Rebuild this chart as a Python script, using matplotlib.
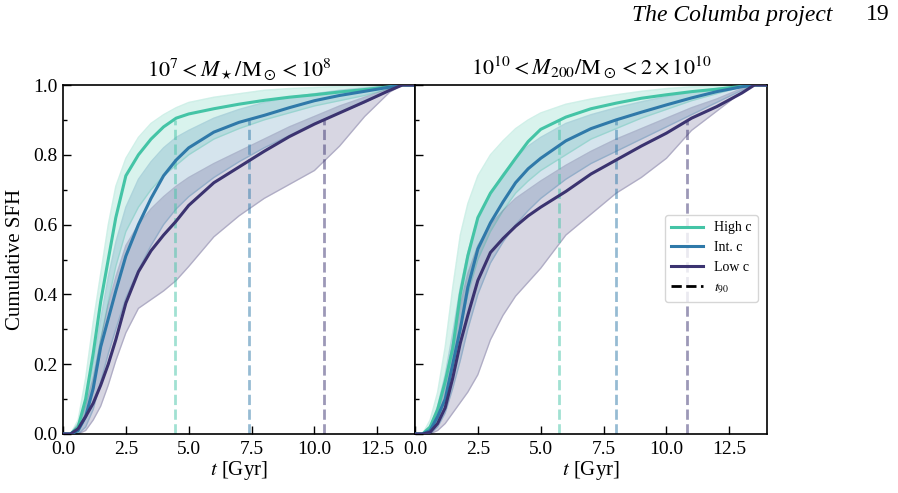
import numpy as np
import matplotlib
matplotlib.use("Agg")
import matplotlib.pyplot as plt
from matplotlib.lines import Line2D

plt.rcParams['font.family'] = ['Liberation Serif', 'DejaVu Serif']
plt.rcParams['mathtext.fontset'] = 'stix'

# time grid (Gyr)
t = [0, 0.3, 0.6, 0.9, 1.2, 1.5, 1.8, 2.1, 2.5, 3.0, 3.5, 4.0, 4.5, 5.0,
     6.0, 7.0, 8.0, 9.0, 10.0, 11.0, 12.0, 13.0, 13.5, 14.0]

series = ["High c", "Int. c", "Low c"]
colors = ["#44c4a6", "#2f79a9", "#3b3370"]

# ---- Left panel: 10^7 < M* < 10^8 ----
L_high_med = [0, 0, 0.02, 0.10, 0.23, 0.38, 0.50, 0.62, 0.74, 0.80, 0.845, 0.88, 0.905, 0.917,
              0.932, 0.945, 0.956, 0.965, 0.972, 0.980, 0.987, 0.995, 1, 1]
L_high_up = [0, 0, 0.04, 0.16, 0.32, 0.46, 0.60, 0.71, 0.79, 0.85, 0.89, 0.915, 0.935, 0.95,
             0.965, 0.975, 0.985, 0.99, 0.993, 0.996, 0.998, 1, 1, 1]
L_high_lo = [0, 0, 0.005, 0.05, 0.14, 0.27, 0.38, 0.48, 0.58, 0.65, 0.70, 0.74, 0.77, 0.80,
             0.845, 0.875, 0.90, 0.92, 0.94, 0.955, 0.97, 0.99, 1, 1]
L_int_med = [0, 0, 0.01, 0.05, 0.13, 0.25, 0.33, 0.41, 0.51, 0.60, 0.675, 0.74, 0.785, 0.82,
             0.865, 0.893, 0.913, 0.935, 0.955, 0.97, 0.982, 0.994, 1, 1]
L_int_up = [0, 0, 0.01, 0.08, 0.20, 0.33, 0.45, 0.55, 0.65, 0.73, 0.78, 0.82, 0.85, 0.87,
            0.905, 0.93, 0.95, 0.965, 0.975, 0.985, 0.992, 0.998, 1, 1]
L_int_lo = [0, 0, 0, 0.02, 0.07, 0.15, 0.23, 0.30, 0.39, 0.47, 0.54, 0.60, 0.645, 0.68,
            0.735, 0.78, 0.82, 0.855, 0.89, 0.92, 0.95, 0.985, 1, 1]
L_low_med = [0, 0, 0.015, 0.05, 0.088, 0.14, 0.20, 0.27, 0.375, 0.465, 0.525, 0.57, 0.61, 0.655,
             0.72, 0.765, 0.81, 0.852, 0.888, 0.92, 0.952, 0.985, 1, 1]
L_low_up = [0, 0, 0.03, 0.08, 0.16, 0.27, 0.37, 0.45, 0.54, 0.60, 0.645, 0.68, 0.71, 0.735,
            0.775, 0.81, 0.845, 0.88, 0.91, 0.94, 0.965, 0.99, 1, 1]
L_low_lo = [0, 0, 0, 0.01, 0.04, 0.08, 0.14, 0.21, 0.29, 0.36, 0.385, 0.41, 0.44, 0.48,
            0.565, 0.625, 0.675, 0.715, 0.755, 0.825, 0.91, 0.98, 1, 1]
L_t90 = [4.44, 7.4, 10.37]

# ---- Right panel: 10^10 < M200 < 2x10^10 ----
R_high_med = [0, 0, 0.02, 0.07, 0.15, 0.245, 0.40, 0.51, 0.62, 0.69, 0.74, 0.79, 0.838, 0.873,
              0.908, 0.932, 0.948, 0.962, 0.972, 0.981, 0.988, 0.996, 1, 1]
R_high_up = [0, 0, 0.04, 0.12, 0.25, 0.42, 0.57, 0.66, 0.74, 0.80, 0.84, 0.875, 0.90, 0.92,
             0.945, 0.96, 0.972, 0.982, 0.99, 0.995, 0.998, 1, 1, 1]
R_high_lo = [0, 0, 0.005, 0.04, 0.10, 0.19, 0.30, 0.40, 0.50, 0.58, 0.64, 0.69, 0.725, 0.755,
             0.80, 0.845, 0.875, 0.905, 0.93, 0.955, 0.975, 0.995, 1, 1]
R_int_med = [0, 0, 0.01, 0.05, 0.10, 0.20, 0.30, 0.42, 0.53, 0.605, 0.665, 0.72, 0.76, 0.79,
             0.84, 0.875, 0.90, 0.922, 0.943, 0.963, 0.981, 0.995, 1, 1]
R_int_up = [0, 0, 0.02, 0.08, 0.17, 0.29, 0.42, 0.52, 0.62, 0.69, 0.745, 0.79, 0.825, 0.85,
            0.89, 0.915, 0.935, 0.952, 0.967, 0.98, 0.99, 0.998, 1, 1]
R_int_lo = [0, 0, 0, 0.02, 0.06, 0.13, 0.21, 0.30, 0.40, 0.49, 0.55, 0.60, 0.64, 0.675,
            0.73, 0.775, 0.81, 0.845, 0.88, 0.915, 0.95, 0.985, 1, 1]
R_low_med = [0, 0, 0.005, 0.03, 0.075, 0.16, 0.26, 0.34, 0.44, 0.52, 0.56, 0.595, 0.625, 0.65,
             0.695, 0.745, 0.785, 0.825, 0.862, 0.905, 0.938, 0.977, 1, 1]
R_low_up = [0, 0, 0.02, 0.07, 0.15, 0.26, 0.37, 0.46, 0.54, 0.60, 0.64, 0.675, 0.70, 0.725,
            0.77, 0.81, 0.845, 0.875, 0.905, 0.935, 0.96, 0.99, 1, 1]
R_low_lo = [0, 0, 0, 0.01, 0.03, 0.06, 0.09, 0.12, 0.17, 0.27, 0.34, 0.395, 0.435, 0.475,
            0.57, 0.63, 0.69, 0.735, 0.79, 0.87, 0.925, 0.98, 1, 1]
R_t90 = [5.72, 8.0, 10.8]

panels = [
    dict(title=r"$10^7 < M_\star/\mathrm{M}_\odot < 10^8$",
         med=[L_high_med, L_int_med, L_low_med],
         up=[L_high_up, L_int_up, L_low_up],
         lo=[L_high_lo, L_int_lo, L_low_lo],
         t90=L_t90),
    dict(title=r"$10^{10} < M_{200}/\mathrm{M}_\odot < 2\times10^{10}$",
         med=[R_high_med, R_int_med, R_low_med],
         up=[R_high_up, R_int_up, R_low_up],
         lo=[R_high_lo, R_int_lo, R_low_lo],
         t90=R_t90),
]

fig = plt.figure(figsize=(8.98, 4.93), dpi=100)
ax_w = 352 / 898
ax_h = 349 / 493
x0 = 63 / 898
y0 = 1 - 434 / 493
axes = [fig.add_axes([x0, y0, ax_w, ax_h]),
        fig.add_axes([x0 + ax_w, y0, ax_w, ax_h])]

for i, (ax, p) in enumerate(zip(axes, panels)):
    for j in range(3):
        c = colors[j]
        ax.fill_between(t, p['lo'][j], p['up'][j], color=c, alpha=0.2, lw=0)
        ax.plot(t, p['lo'][j], color=c, alpha=0.25, lw=1)
        ax.plot(t, p['up'][j], color=c, alpha=0.25, lw=1)
    for j in range(3):
        ax.plot(t, p['med'][j], color=colors[j], lw=2.2, zorder=3)
    for j in range(3):
        ax.vlines(p['t90'][j], 0, 0.9, colors=colors[j], linestyles='--',
                  lw=2, alpha=0.5, zorder=2)
    ax.set_xlim(0, 14)
    ax.set_ylim(0, 1)
    ax.set_xticks([0, 2.5, 5, 7.5, 10, 12.5])
    ax.set_xticklabels(["0.0", "2.5", "5.0", "7.5", "10.0", "12.5"])
    ax.set_yticks([0, 0.2, 0.4, 0.6, 0.8, 1.0])
    ax.set_yticks(np.arange(0.1, 1.0, 0.2), minor=True)
    ax.tick_params(axis='both', which='major', direction='in', length=6, width=1,
                   labelsize=14, top=False, right=False)
    ax.tick_params(axis='x', which='major', pad=5)
    ax.tick_params(axis='y', which='major', pad=4)
    ax.tick_params(axis='y', which='minor', direction='in', length=3, width=1)
    for s in ax.spines.values():
        s.set_linewidth(1.2)
    ax.set_xlabel(r"$t$ [Gyr]", fontsize=15, labelpad=1)
    ax.set_title(p['title'], fontsize=16, pad=7)
    if i == 0:
        ax.set_yticklabels(["0.0", "0.2", "0.4", "0.6", "0.8", "1.0"])
        ax.set_ylabel("Cumulative SFH", fontsize=15, labelpad=6)
    else:
        ax.set_yticklabels([])

handles = [Line2D([], [], color=colors[k], lw=2.2) for k in range(3)]
handles.append(Line2D([], [], color='k', lw=2, ls='--'))
labels = series + [r"$t_{90}$"]
axes[1].legend(handles, labels, loc='upper left', bbox_to_anchor=(0.69, 0.647),
               fontsize=10, handlelength=2.3, framealpha=0.8, borderpad=0.45,
               labelspacing=0.5, handletextpad=0.8)

fig.text(832 / 898, 1 - 15 / 493, "The Columba project", style='italic',
         fontsize=17, ha='right', va='center')
fig.text(890 / 898, 1 - 15 / 493, "19", fontsize=17, ha='right', va='center')

fig.savefig("out.png", dpi=100)
